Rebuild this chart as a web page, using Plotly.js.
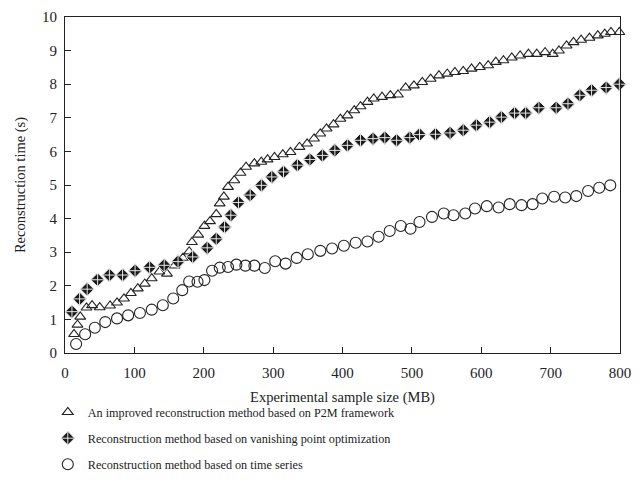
<!DOCTYPE html>
<html>
<head>
<meta charset="utf-8">
<script src="https://cdn.plot.ly/plotly-3.0.1.min.js"></script>
<style>html,body{margin:0;padding:0;background:#fff;}#chart{width:644px;height:500px;}</style>
</head>
<body>
<div id="chart"></div>
<script>
// Series 1: An improved reconstruction method based on P2M framework (triangles)
var p2mX = [13,18,22,31,39,50,65,75,85,95,105,115,125,136,147,158,170,179,183,192,201,209,218,223,229,235,244,253,261,273,283,292,302,314,325,338,349,359,368,377,387,397,407,417,426,436,445,457,469,480,491,503,515,527,539,551,562,574,586,598,610,621,632,644,656,668,680,692,703,712,723,733,744,756,768,778,787,799];
var p2mY = [0.56,0.84,1.08,1.35,1.42,1.36,1.41,1.5,1.62,1.78,1.92,2.06,2.22,2.42,2.36,2.6,2.83,3.02,3.3,3.52,3.78,3.92,4.13,4.45,4.65,4.94,5.14,5.36,5.54,5.64,5.69,5.76,5.83,5.91,5.98,6.13,6.23,6.38,6.53,6.68,6.8,6.97,7.07,7.22,7.34,7.47,7.57,7.62,7.67,7.69,7.9,7.96,8.06,8.16,8.26,8.31,8.36,8.39,8.46,8.51,8.56,8.66,8.71,8.79,8.85,8.9,8.9,8.95,8.9,9.0,9.15,9.25,9.32,9.38,9.45,9.5,9.55,9.55];

// Series 2: Reconstruction method based on vanishing point optimization (diamonds)
var vpX = [10,21,32,47,64,83,101,122,143,163,184,205,218,230,239,250,267,283,298,315,335,353,371,389,407,426,444,461,478,497,511,534,555,574,593,612,629,648,664,683,708,725,742,759,780,799];
var vpY = [1.23,1.61,1.9,2.18,2.32,2.32,2.45,2.55,2.61,2.72,2.86,3.13,3.4,3.75,4.1,4.48,4.7,4.99,5.24,5.39,5.59,5.76,5.88,6.03,6.18,6.33,6.38,6.41,6.33,6.41,6.5,6.51,6.55,6.63,6.78,6.87,7.02,7.14,7.14,7.3,7.3,7.42,7.67,7.82,7.9,8.0];

// Series 3: Reconstruction method based on time series (circles)
var tsX = [16,29,43,58,75,91,108,125,141,156,169,179,191,201,212,223,235,247,260,273,288,303,318,334,350,368,385,402,419,436,452,468,484,498,511,529,546,560,577,591,608,625,641,658,674,688,705,721,737,754,770,786,801];
var tsY = [0.27,0.56,0.75,0.92,1.03,1.12,1.19,1.29,1.42,1.62,1.87,2.13,2.12,2.17,2.45,2.54,2.56,2.63,2.6,2.6,2.53,2.73,2.66,2.83,2.94,3.04,3.11,3.19,3.28,3.32,3.46,3.63,3.78,3.7,3.9,4.05,4.15,4.1,4.15,4.3,4.37,4.33,4.43,4.4,4.43,4.6,4.65,4.63,4.67,4.82,4.92,4.99,5.08];

var seriesNames = [
  "An improved reconstruction method based on P2M framework",
  "Reconstruction method based on vanishing point optimization",
  "Reconstruction method based on time series"
];
var xTicks = [0,100,200,300,400,500,600,700,800];
var yTicks = [0,1,2,3,4,5,6,7,8,9,10];

var ink = '#222';
var fontFam = '"Liberation Serif", "DejaVu Serif", serif';

var traces = [
  {x: p2mX, y: p2mY, name: seriesNames[0], type: 'scatter', mode: 'markers', legendgroup: 'a',
   cliponaxis: false,
   marker: {symbol: 'triangle-up-open', size: 9.5, color: ink, line: {color: ink, width: 1.1}}},
  {x: vpX, y: vpY, name: seriesNames[1], type: 'scatter', mode: 'markers', legendgroup: 'b',
   cliponaxis: false,
   marker: {symbol: 'diamond-cross', size: 10.5, color: '#1a1a1a', line: {color: '#e6e6e6', width: 1}}},
  {x: tsX, y: tsY, name: seriesNames[2], type: 'scatter', mode: 'markers', legendgroup: 'c',
   cliponaxis: false,
   marker: {symbol: 'circle-open', size: 11, color: ink, line: {color: ink, width: 1.1}}}
];

var layout = {
  width: 644, height: 500,
  margin: {l: 65, r: 24, t: 17, b: 147},
  paper_bgcolor: '#fff', plot_bgcolor: '#fff',
  font: {family: fontFam, size: 15, color: ink},
  showlegend: true,
  legend: {
    x: -0.031, xanchor: 'left', y: -0.133, yanchor: 'top',
    traceorder: 'grouped', tracegroupgap: 7,
    font: {family: fontFam, size: 12.2, color: ink},
    bgcolor: 'rgba(0,0,0,0)'
  },
  xaxis: {
    range: [0, 800], tickvals: xTicks, ticktext: xTicks.map(String),
    ticks: 'inside', ticklen: 6, tickcolor: ink, tickwidth: 1,
    showline: true, linecolor: ink, linewidth: 1, mirror: true,
    showgrid: false, zeroline: false,
    ticklabelstandoff: 6,
    tickfont: {family: fontFam, size: 15, color: ink},
    title: {text: 'Experimental sample size (MB)', font: {family: fontFam, size: 14.5, color: ink}, standoff: 11}
  },
  yaxis: {
    range: [0, 10], tickvals: yTicks, ticktext: yTicks.map(String),
    ticks: 'inside', ticklen: 6, tickcolor: ink, tickwidth: 1,
    showline: true, linecolor: ink, linewidth: 1, mirror: true,
    showgrid: false, zeroline: false,
    ticklabelstandoff: 4,
    tickfont: {family: fontFam, size: 15, color: ink},
    title: {text: 'Reconstruction time (s)', font: {family: fontFam, size: 14.5, color: ink}, standoff: 12}
  }
};

Plotly.newPlot('chart', traces, layout, {displayModeBar: false, staticPlot: true});
</script>
</body>
</html>
